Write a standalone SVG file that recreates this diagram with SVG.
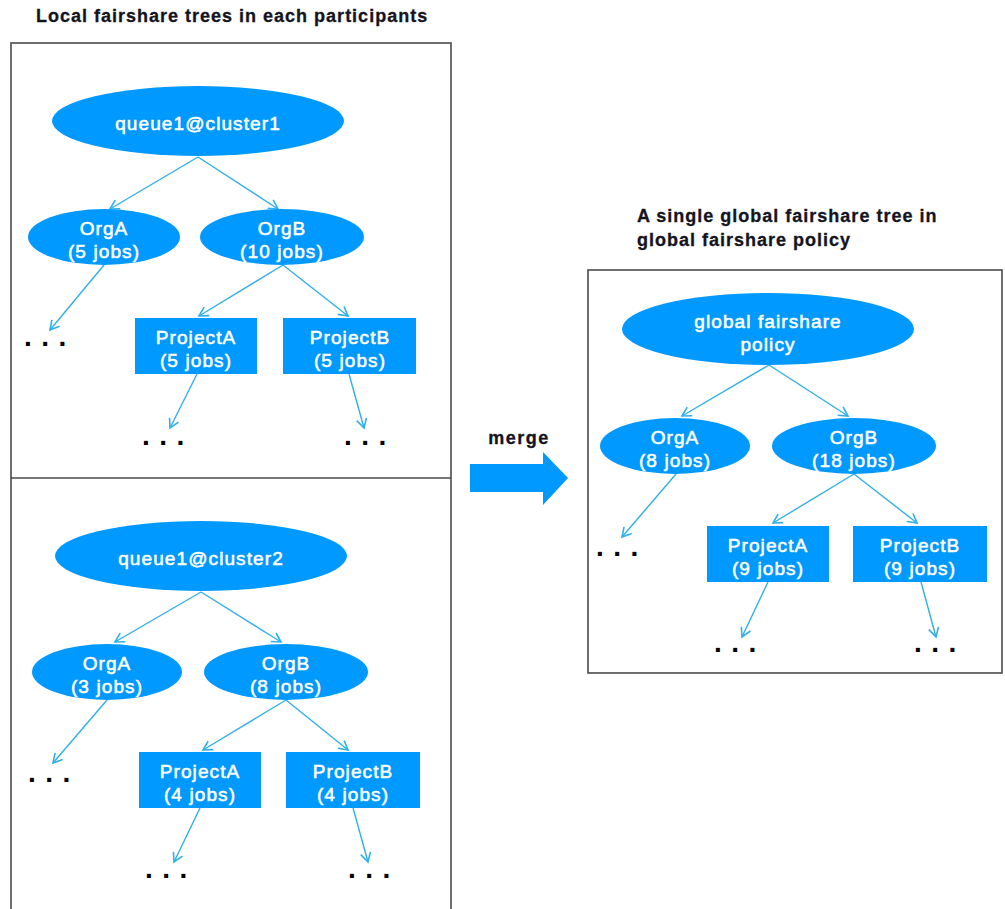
<svg xmlns="http://www.w3.org/2000/svg" width="1005" height="909" viewBox="0 0 1005 909">
  <defs>
    <marker id="chev" markerUnits="userSpaceOnUse" markerWidth="14" markerHeight="14" viewBox="-11 -7 14 14" refX="0" refY="0" orient="auto">
      <path d="M-9,-5 L0,0 L-9,5" fill="none" stroke="#2fb0e8" stroke-width="1.6" stroke-linejoin="miter"/>
    </marker>
    <style>
      .frame { fill: #ffffff; stroke: #4a4a4a; stroke-width: 1.6; }
      .title { font-family: "Liberation Sans", Arial, sans-serif; font-weight: bold; font-size: 18px; letter-spacing: 1px; fill: #14141e; stroke: #14141e; stroke-width: 0.3; }
      .node { fill: #0099ff; }
      .lbl { font-family: "Liberation Sans", Arial, sans-serif; font-size: 19px; letter-spacing: 1.1px; fill: #ffffff; stroke: #ffffff; stroke-width: 0.55; text-anchor: middle; }
      .dots { font-family: "Liberation Sans", Arial, sans-serif; font-weight: bold; font-size: 28px; letter-spacing: 9.5px; fill: #000000; }
      .conn line { stroke: #2fb0e8; stroke-width: 1.4; marker-end: url(#chev); }
    </style>
  </defs>

  <rect width="1005" height="909" fill="#ffffff"/>

  <!-- frames -->
  <g id="frames">
    <rect class="frame" x="11" y="43" width="440" height="880"/>
    <line x1="11" y1="478" x2="451" y2="478" stroke="#4a4a4a" stroke-width="1.6"/>
    <rect class="frame" x="588" y="270" width="414" height="403"/>
  </g>

  <!-- headings -->
  <text class="title" x="36" y="22">Local fairshare trees in each participants</text>
  <text class="title" x="637" y="222">A single global fairshare tree in</text>
  <text class="title" x="637" y="246">global fairshare policy</text>

  <!-- merge arrow -->
  <g id="merge">
    <text class="title" x="519" y="444" text-anchor="middle" style="letter-spacing:1.5px">merge</text>
    <polygon points="470,464 543,464 543,452 568,478 543,505 543,492 470,492" fill="#0099ff"/>
  </g>

  <!-- connectors -->
  <g id="connectors" class="conn">
    <!-- cluster1 tree -->
    <line x1="198" y1="157" x2="110" y2="209"/>
    <line x1="198" y1="157" x2="278" y2="209"/>
    <line x1="104" y1="265" x2="50" y2="330"/>
    <line x1="283" y1="265" x2="199" y2="316"/>
    <line x1="283" y1="265" x2="348" y2="316"/>
    <line x1="197" y1="374" x2="170" y2="428"/>
    <line x1="349" y1="374" x2="364" y2="428"/>
    <!-- cluster2 tree -->
    <line x1="201" y1="592" x2="115" y2="642"/>
    <line x1="201" y1="592" x2="281" y2="642"/>
    <line x1="107" y1="700" x2="53" y2="763"/>
    <line x1="286" y1="700" x2="203" y2="750"/>
    <line x1="286" y1="700" x2="348" y2="750"/>
    <line x1="200" y1="808" x2="174" y2="862"/>
    <line x1="353" y1="808" x2="368" y2="862"/>
    <!-- global tree -->
    <line x1="769" y1="365" x2="682" y2="416"/>
    <line x1="769" y1="365" x2="848" y2="416"/>
    <line x1="676" y1="474" x2="622" y2="537"/>
    <line x1="854" y1="474" x2="773" y2="523"/>
    <line x1="854" y1="474" x2="917" y2="523"/>
    <line x1="768" y1="582" x2="742" y2="637"/>
    <line x1="921" y1="582" x2="936" y2="637"/>
  </g>

  <!-- cluster1 tree -->
  <g id="c1-root">
    <ellipse class="node" cx="198" cy="121" rx="146" ry="35"/>
    <text class="lbl" x="198" y="130">queue1@cluster1</text>
  </g>
  <g id="c1-orga">
    <ellipse class="node" cx="104" cy="237" rx="76" ry="28"/>
    <text class="lbl" x="104" y="235">OrgA</text>
    <text class="lbl" x="104" y="258">(5 jobs)</text>
  </g>
  <g id="c1-orgb">
    <ellipse class="node" cx="282" cy="237" rx="82" ry="28"/>
    <text class="lbl" x="282" y="235">OrgB</text>
    <text class="lbl" x="282" y="258">(10 jobs)</text>
  </g>
  <g id="c1-proja">
    <rect class="node" x="135" y="318" width="122" height="56"/>
    <text class="lbl" x="196" y="344">ProjectA</text>
    <text class="lbl" x="196" y="367">(5 jobs)</text>
  </g>
  <g id="c1-projb">
    <rect class="node" x="283" y="318" width="133" height="56"/>
    <text class="lbl" x="350" y="344">ProjectB</text>
    <text class="lbl" x="350" y="367">(5 jobs)</text>
  </g>
  <g id="c1-more">
    <text class="dots" x="24" y="346">...</text>
    <text class="dots" x="142" y="445">...</text>
    <text class="dots" x="344" y="445">...</text>
  </g>

  <!-- cluster2 tree -->
  <g id="c2-root">
    <ellipse class="node" cx="201" cy="556" rx="146" ry="35"/>
    <text class="lbl" x="201" y="565">queue1@cluster2</text>
  </g>
  <g id="c2-orga">
    <ellipse class="node" cx="107" cy="672" rx="75" ry="28"/>
    <text class="lbl" x="107" y="670">OrgA</text>
    <text class="lbl" x="107" y="693">(3 jobs)</text>
  </g>
  <g id="c2-orgb">
    <ellipse class="node" cx="286" cy="672" rx="82" ry="28"/>
    <text class="lbl" x="286" y="670">OrgB</text>
    <text class="lbl" x="286" y="693">(8 jobs)</text>
  </g>
  <g id="c2-proja">
    <rect class="node" x="139" y="752" width="122" height="56"/>
    <text class="lbl" x="200" y="778">ProjectA</text>
    <text class="lbl" x="200" y="801">(4 jobs)</text>
  </g>
  <g id="c2-projb">
    <rect class="node" x="286" y="752" width="134" height="56"/>
    <text class="lbl" x="353" y="778">ProjectB</text>
    <text class="lbl" x="353" y="801">(4 jobs)</text>
  </g>
  <g id="c2-more">
    <text class="dots" x="28" y="782">...</text>
    <text class="dots" x="145" y="878">...</text>
    <text class="dots" x="348" y="878">...</text>
  </g>

  <!-- global tree -->
  <g id="g-root">
    <ellipse class="node" cx="768" cy="329" rx="146" ry="36"/>
    <text class="lbl" x="768" y="328">global fairshare</text>
    <text class="lbl" x="768" y="351">policy</text>
  </g>
  <g id="g-orga">
    <ellipse class="node" cx="675" cy="446" rx="75" ry="28"/>
    <text class="lbl" x="675" y="444">OrgA</text>
    <text class="lbl" x="675" y="467">(8 jobs)</text>
  </g>
  <g id="g-orgb">
    <ellipse class="node" cx="854" cy="446" rx="82" ry="28"/>
    <text class="lbl" x="854" y="444">OrgB</text>
    <text class="lbl" x="854" y="467">(18 jobs)</text>
  </g>
  <g id="g-proja">
    <rect class="node" x="707" y="526" width="122" height="56"/>
    <text class="lbl" x="768" y="552">ProjectA</text>
    <text class="lbl" x="768" y="575">(9 jobs)</text>
  </g>
  <g id="g-projb">
    <rect class="node" x="853" y="526" width="134" height="56"/>
    <text class="lbl" x="920" y="552">ProjectB</text>
    <text class="lbl" x="920" y="575">(9 jobs)</text>
  </g>
  <g id="g-more">
    <text class="dots" x="596" y="556">...</text>
    <text class="dots" x="714" y="652">...</text>
    <text class="dots" x="914" y="652">...</text>
  </g>
</svg>
